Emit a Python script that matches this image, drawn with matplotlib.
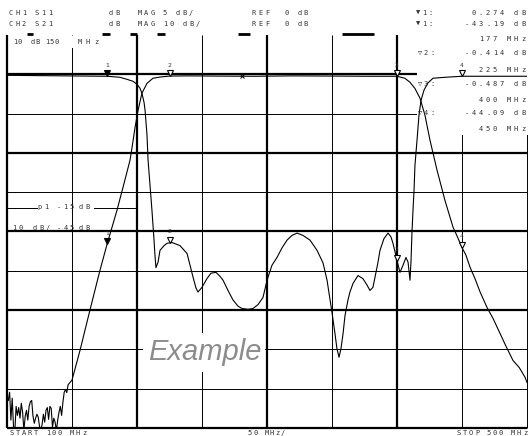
import numpy as np
import matplotlib
matplotlib.use('Agg')
import matplotlib.pyplot as plt
from matplotlib.patches import Rectangle
from matplotlib.transforms import offset_copy

# --- datos (MHz, dB) ---
# CH2 S21, 10 dB/div, ref 0 dB
s21_freq = [101, 102, 103, 104, 105, 106, 107, 108, 109, 110,
            111, 112, 113, 114, 115, 116, 117, 118, 119, 120,
            121, 122, 123, 124, 125, 126, 127, 128, 129, 130,
            131, 132, 133, 134, 135, 136, 137, 138, 139, 140,
            141, 142, 143, 144, 145, 146, 147, 148,
            150, 156.2, 163.8, 171.5, 177, 184.6, 189.2, 194.6, 196.2, 198.5,
            200.8, 203.8, 207.7, 212.3, 217.7, 225, 240, 260, 290, 320,
            350, 380, 400, 406, 409.9, 413.8, 417.7, 421.5, 425.4, 430.8,
            436.9, 443.1, 446, 450, 453, 456.2, 460, 463.8, 469.2, 474,
            479.2, 484, 489.2, 494, 498.5, 500]
s21_db = [-83.0, -80.9, -88.0, -82.4, -89.5, -91.0, -84.5, -86.8, -84.8, -87.5,
          -83.7, -86.0, -90.6, -87.0, -85.5, -88.0, -84.5, -83.3, -83.0, -87.0,
          -88.8, -87.5, -86.5, -87.2, -89.6, -90.6, -89.1, -86.5, -88.5, -85.5,
          -84.8, -87.8, -84.5, -85.0, -89.8, -87.5, -88.5, -90.6, -88.0, -86.0,
          -84.5, -86.8, -83.5, -80.9, -80.2, -81.0, -79.0, -78.6,
          -77.8, -70.2, -60.0, -49.9, -43.2, -34.6, -28.8, -21.9, -18.6, -13.5,
          -9.2, -4.8, -2.3, -1.0, -0.7, -0.45, -0.4, -0.45, -0.5, -0.4,
          -0.45, -0.5, -0.5, -1.0, -2.0, -3.6, -6.1, -10.4, -16.8, -24.4,
          -32.1, -38.9, -41.0, -44.1, -46.0, -49.1, -52.0, -55.3, -59.3, -62.2,
          -65.9, -69.3, -72.8, -74.6, -77.1, -78.4]

# CH1 S11, 5 dB/div, ref 0 dB
s11_freq = [100, 176.9, 186.9, 192.3, 196.9, 200, 202.3, 203.8, 205.4, 206.2,
            207.7, 208.5, 210, 211.5, 213.1, 213.8, 214.6, 216.2, 217.7, 220.8,
            223.1, 226.9, 233.1, 238.5, 240.8, 243.1, 245.4, 246.9, 250, 253.8,
            256.9, 260.8, 263.8, 266.2, 270, 273.8, 277.7, 280.8, 285.4, 289.2,
            293.1, 296.9, 299.2, 300.8, 303.8, 307.7, 311.5, 315.4, 319.2, 323.1,
            327.7, 333.1, 338.5, 343.1, 346.2, 348.5, 350, 352.3, 353.8, 355.4,
            356.9, 358.5, 360, 362.3, 363.8, 366.2, 370, 373.8, 376.9, 379.2,
            381.5, 383.1, 385.4, 386.9, 390, 393.1, 395.4, 396.9, 398.5, 400,
            402.3, 404.6, 406.9, 408.5, 410, 410.8, 411.5, 412.3, 413.1, 413.8,
            415.4, 416.9, 418.5, 420.8, 423.8, 427.7, 436.9, 450, 500]
s11_db = [-0.13, -0.25, -0.38, -0.64, -0.89, -1.27, -1.78, -2.42, -3.56, -4.58,
          -7.76, -10.9, -14.1, -17.3, -21.1, -23.0, -24.6, -23.9, -22.4, -21.8,
          -21.5, -21.4, -21.8, -22.8, -24.3, -25.8, -27.2, -27.7, -27.1, -26.0,
          -25.3, -25.2, -25.7, -26.2, -27.5, -28.7, -29.5, -29.8, -29.9, -29.8,
          -29.3, -28.4, -26.8, -25.8, -24.3, -23.3, -22.1, -21.1, -20.5, -20.2,
          -20.5, -21.1, -22.4, -24.0, -26.2, -28.7, -30.3, -33.0, -34.9, -36.0,
          -34.9, -33.0, -30.7, -28.7, -27.7, -26.6, -25.6, -26.0, -26.8, -27.5,
          -27.1, -25.8, -23.9, -22.4, -20.9, -20.2, -20.7, -21.5, -22.6, -23.7,
          -25.2, -24.3, -23.3, -23.9, -26.2, -23.7, -20.2, -17.3, -14.8, -11.6,
          -8.4, -5.2, -3.3, -2.0, -1.1, -0.5, -0.38, -0.25, -0.25]

marker_freq = [177, 225, 400, 450]
marker_num = ['1', '2', '3', '4']

header1 = ['CH1 S11', 'dB', 'MAG', '5 dB/', 'REF  0 dB', '\u25bc1:', '0.274 dB']
header2 = ['CH2 S21', 'dB', 'MAG', '10 dB/', 'REF  0 dB', '\u25bc1:', '-43.19 dB']
readouts = [('', '177 MHz'), ('\u25bd2:', '-0.414 dB'), ('', '225 MHz'),
            ('\u25bd3:', '-0.487 dB'), ('', '400 MHz'),
            ('\u25bd4:', '-44.09 dB'), ('', '450 MHz')]

f_start, f_stop = 100, 500
s11_scale = 10 / 5   # CH1 5 dB/div dibujado sobre la escala de 10 dB/div

W, H = 528, 436
MONO = ['DejaVu Sans Mono', 'DejaVu Sans']

fig = plt.figure(figsize=(W / 100, H / 100), dpi=100)
fig.patch.set_facecolor('white')
ax = fig.add_axes([7 / W, (H - 428) / H, 520 / W, 393 / H])
ax.set_xlim(f_start, f_stop)
ax.set_ylim(-90, 10)
ax.axis('off')


def px_text(x, y, s, pitch=6.5, size=5.0, right=False, color='#333333'):
    # texto con espaciado fijo, como la pantalla del analizador
    if right:
        x = x - pitch * (len(s) - 1)
    for i, ch in enumerate(s):
        if ch != ' ':
            fig.text((x + i * pitch) / W, 1 - y / H, ch, ha='center', va='center',
                     fontsize=size, family=MONO, color=color)


def white_box(x0, y0, x1, y1):
    ax.add_patch(Rectangle(((x0 - 7) / 520, (428 - y1) / 393), (x1 - x0) / 520,
                           (y1 - y0) / 393, transform=ax.transAxes, fc='white',
                           ec='none', zorder=2, clip_on=False))


# reticula
xdivs = np.linspace(f_start, f_stop, 9)
for i, f in enumerate(xdivs):
    lw = 1.6 if (i % 2 == 0 and i < 8) else 0.7
    ax.plot([f, f], [-90, 10], color='black', lw=lw, zorder=1, clip_on=False,
            solid_capstyle='butt')
ydivs = np.linspace(10, -90, 11)
for j, y in enumerate(ydivs):
    if j == 0:
        continue
    lw = 1.6 if j in (1, 3, 5, 7, 10) else 0.7
    ax.plot([f_start, f_stop], [y, y], color='black', lw=lw, zorder=1,
            clip_on=False, solid_capstyle='butt')

# trazos cortos en el borde superior
top_dashes = [(115.4, 120), (173.1, 179.2), (194.6, 200), (215.4, 221.5),
              (277.7, 286.9), (357.7, 382.3)]
for a, b in top_dashes:
    ax.plot([a, b], [10.2, 10.2], color='black', lw=2.0, zorder=3, clip_on=False,
            solid_capstyle='butt')

# linea de referencia p1
ax.plot([100, 123], [-34.1, -34.1], color='black', lw=0.7, zorder=3)
ax.plot([167, 200], [-34.1, -34.1], color='black', lw=0.7, zorder=3)

white_box(417, 35, 528, 135)
white_box(9, 36, 100, 48)
white_box(143, 333, 265, 372)

# trazas
s11_plot = np.array(s11_db) * s11_scale
ax.plot(s21_freq, s21_db, color='black', lw=0.8, zorder=4)
ax.plot(s11_freq, s11_plot, color='black', lw=0.8, zorder=4)
ax.plot(281, -0.5, marker='x', ms=3, mew=0.7, color='black', zorder=5)

# marcadores
up = offset_copy(ax.transData, fig=fig, x=0, y=3, units='dots')
lab = offset_copy(ax.transData, fig=fig, x=0, y=11, units='dots')
for k, f in enumerate(marker_freq):
    for yv in (np.interp(f, s21_freq, s21_db), np.interp(f, s11_freq, s11_plot)):
        fc = 'black' if k == 0 else 'white'
        ax.plot(f, yv, marker='v', ms=5, mfc=fc, mec='black', mew=0.8,
                transform=up, zorder=6, clip_on=False)
        ax.text(f, yv, marker_num[k], transform=lab, ha='center', va='center',
                fontsize=4.5, family=MONO, color='#333333', zorder=6)

# encabezado
xs = [11, 111, 140, 165, 254, 418]
for x, s in zip(xs, header1[:-1]):
    px_text(x, 13, s)
px_text(523, 13, header1[-1], pitch=7, right=True)
for x, s in zip(xs, header2[:-1]):
    px_text(x, 24, s)
px_text(523, 24, header2[-1], pitch=7, right=True)

# lecturas de marcadores
ys = [39, 53, 70, 84, 100, 113, 129]
for y, (lbl, val) in zip(ys, readouts):
    if lbl:
        px_text(420, y, lbl, pitch=6)
    px_text(523, y, val, pitch=7, right=True)

px_text(15, 42, '10', pitch=5)
px_text(33, 42, 'dB', pitch=5)
px_text(47, 42, '150', pitch=5)
px_text(80, 42, 'MHz', pitch=8)

px_text(40, 207, 'p1', pitch=6.5)
px_text(59, 207, '-15', pitch=6.5)
px_text(81, 207, 'dB', pitch=6.5)
px_text(14, 228, '10', pitch=6.5)
px_text(35, 228, 'dB/', pitch=6.5)
px_text(59, 228, '-45', pitch=6.5)
px_text(81, 228, 'dB', pitch=6.5)

# eje inferior
px_text(12, 433, 'START 100 MHz', pitch=6)
px_text(250, 433, '50 MHz/', pitch=5.5)
px_text(525, 433, 'STOP 500 MHz', pitch=6, right=True)

fig.text(148 / W, 1 - 360 / H, 'Example', ha='left', va='baseline', fontsize=21,
         style='italic', family=['Liberation Sans', 'DejaVu Sans'], color='#8c8c8c')

fig.savefig('out.png', dpi=100)
